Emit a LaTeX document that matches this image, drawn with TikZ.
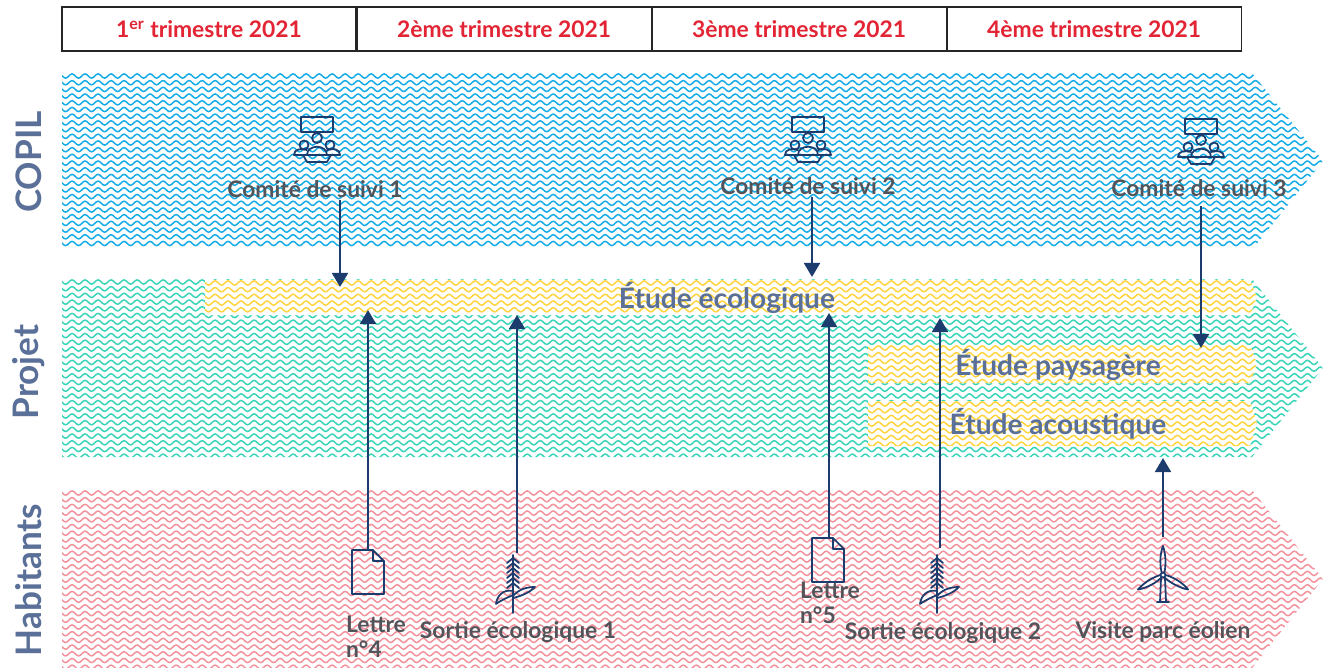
\documentclass[tikz,border=0pt]{standalone}
\usepackage{fontspec}
\setmainfont{Lato}
\usetikzlibrary{positioning,arrows.meta,decorations.pathmorphing}

\definecolor{copilblue}{RGB}{22,172,230}
\definecolor{projgreen}{RGB}{58,212,184}
\definecolor{studyyellow}{RGB}{255,212,62}
\definecolor{habpink}{RGB}{242,146,156}
\definecolor{navy}{RGB}{28,60,110}
\definecolor{slate}{RGB}{90,112,152}
\definecolor{ink}{RGB}{82,84,90}
\definecolor{quarterred}{RGB}{226,36,52}

\newcommand\zigfill[4][none]{%
  \begin{scope}
    \path[fill=#1] #3;
    \clip #3;
    \foreach \yy in {#4}
      \draw[#2, zig] (55,\yy) -- (1330,\yy);
  \end{scope}}

\tikzset{
  zig/.style={line width=0.85pt, decorate, decoration={snake, segment length=7.4pt, amplitude=1.2pt}},
  flow/.style={navy, line width=1.5pt, -{Triangle[width=9pt,length=8pt]}},
  quarter/.style={draw=black!85, line width=0.6pt, minimum width=58.8mm, minimum height=8.8mm,
    text=quarterred, font=\fontsize{13}{15}\selectfont\bfseries},
  lane/.style={rotate=90, text=slate, font=\fontsize{20}{22}\selectfont\bfseries},
  study/.style={text=slate, font=\fontsize{16}{18}\selectfont\bfseries},
  event/.style={text=ink, font=\fontsize{13}{14.2}\selectfont\bfseries, inner sep=1pt},
  slot/.style={inner sep=0pt, minimum width=6mm},
  icon/.style={draw=navy, line width=1pt, line join=round, line cap=round},
  pics/meeting/.style={code={
    \draw[icon] (-16,-23) rectangle (16,-8);
    \draw[icon] (0,-2) circle[radius=5];
    \draw[icon] (-13,5) circle[radius=4.5] (13,5) circle[radius=4.5];
    \draw[icon] (-10,15) .. controls (-10,4) and (10,4) .. (10,15);
    \draw[icon] (-23,15) .. controls (-23,9) and (-16,8) .. (-10,10);
    \draw[icon] (23,15) .. controls (23,9) and (16,8) .. (10,10);
    \draw[icon] (-23,15) -- (23,15) (-14,15) -- (-10,22) -- (10,22) -- (14,15);
  }},
  pics/letter/.style={code={
    \draw[icon] (-16,-22) -- (5,-22) -- (16,-11) -- (16,22) -- (-16,22) -- cycle
      (5,-22) -- (5,-11) -- (16,-11);
  }},
  pics/plant/.style={code={
    \draw[icon] (0,-28) -- (0,30);
    \foreach \k in {0,...,5}
      \draw[icon] (-6,-20+5*\k) -- (0,-25+5*\k) -- (6,-20+5*\k);
    \draw[icon] (0,8) .. controls (-9,6) and (-16,12) .. (-17,21) .. controls (-10,16) and (-4,14) .. (0,12);
    \draw[icon] (0,13) .. controls (6,6) and (14,4) .. (22,4) .. controls (16,10) and (8,13) .. (0,15);
  }},
  pics/turbine/.style={code={
    \draw[icon] (-2,3) -- (-3,27) -- (3,27) -- (2,3);
    \draw[icon] (-6,27) -- (6,27);
    \draw[icon] (0,0) circle[radius=2.5];
    \foreach \a in {0,120,240}
      \draw[icon, rotate=\a] (-1.5,-3) .. controls (-4,-14) and (-2,-24) .. (0,-29)
        .. controls (3,-20) and (3,-10) .. (1.5,-3);
  }}
}

\begin{document}
\begin{tikzpicture}[x=0.2mm, y=-0.2mm]
\useasboundingbox (0,0) rectangle (1323,667);

\zigfill{copilblue}{(62,73) -- (1252,73) -- (1323,161) -- (1252,250) -- (62,250) -- cycle}{76,82.7,...,250}
\zigfill{projgreen}{(62,279) -- (1252,279) -- (1323,368) -- (1252,457) -- (62,457) -- cycle}{282,288.7,...,457}
\zigfill{habpink}{(62,490) -- (1252,490) -- (1323,579) -- (1252,668) -- (62,668) -- cycle}{493,499.7,...,668}

\zigfill[white]{studyyellow}{(205,280) -- (1250,280) -- (1257,297) -- (1250,315) -- (205,315) -- cycle}{283,289.7,...,315}
\zigfill[white]{studyyellow}{(868,345) -- (1250,345) -- (1257,364) -- (1250,383) -- (868,383) -- cycle}{348,354.7,...,383}
\zigfill[white]{studyyellow}{(868,401) -- (1250,401) -- (1257,423) -- (1250,446) -- (868,446) -- cycle}{404,410.7,...,446}

\node[quarter] (q1) at (209,29) {1\textsuperscript{er} trimestre 2021};
\node[quarter, right=0pt of q1] (q2) {2ème trimestre 2021};
\node[quarter, right=0pt of q2] (q3) {3ème trimestre 2021};
\node[quarter, right=0pt of q3] (q4) {4ème trimestre 2021};

\node[lane] (copil) at (29,162) {COPIL};
\node[lane] (projet) at (29,372) {Projet};
\node[lane] (habitants) at (29,580) {Habitants};

\node[study] (eco) at (727,298) {Étude écologique};
\node[study] (pays) at (1058,365) {Étude paysagère};
\node[study] (acou) at (1058,424) {Étude acoustique};

\node[slot, minimum height=9mm] (m1) at (317,140) {};
\node[slot, minimum height=9mm] (m2) at (808,140) {};
\node[slot, minimum height=9mm] (m3) at (1201,142) {};
\pic at (m1) {meeting};
\pic at (m2) {meeting};
\pic at (m3) {meeting};
\node[event] (cs1) at (315,189) {Comité de suivi 1};
\node[event] (cs2) at (808,186) {Comité de suivi 2};
\node[event] (cs3) at (1199,188) {Comité de suivi 3};

\node[slot, minimum height=9mm] (doc4) at (368,572) {};
\node[slot, minimum height=12mm] (sortie1) at (517,583) {};
\node[slot, minimum height=9mm] (doc5) at (828,560) {};
\node[slot, minimum height=14mm] (sortie2) at (940,583) {};
\node[slot, minimum height=15mm] (eolien) at (1163,575) {};
\pic at (doc4) {letter};
\pic at ([xshift=-0.8mm]sortie1) {plant};
\pic at (doc5) {letter};
\pic at ([xshift=-0.6mm]sortie2) {plant};
\pic at (eolien) {turbine};

\node[event, anchor=west, align=left] (l4) at (344,637) {Lettre\\n°4};
\node[event] (s1) at (518,632) {Sortie écologique 1};
\node[event, anchor=west, align=left] (l5) at (798,603) {Lettre\\n°5};
\node[event] (s2) at (943,633) {Sortie écologique 2};
\node[event] (v) at (1163,632) {Visite parc éolien};

\coordinate (in1) at (340,287);
\coordinate (in2) at (812,277);
\coordinate (in3) at (1201,348);
\coordinate (up4) at (368,310);
\coordinate (up5) at (517,315);
\coordinate (up6) at (829,313);
\coordinate (up7) at (940,318);
\coordinate (up8) at (1163,458);

\draw[flow] (cs1.south -| in1) -- (in1);
\draw[flow] (cs2.south -| in2) -- (in2);
\draw[flow] ([yshift=-1.5mm]cs3.south -| in3) -- (in3);
\draw[flow] (doc4.north) -- (up4);
\draw[flow] (sortie1.north) -- (up5);
\draw[flow] (doc5.north -| up6) -- (up6);
\draw[flow] (sortie2.north) -- (up7);
\draw[flow] (eolien.north) -- (up8);
\end{tikzpicture}
\end{document}
